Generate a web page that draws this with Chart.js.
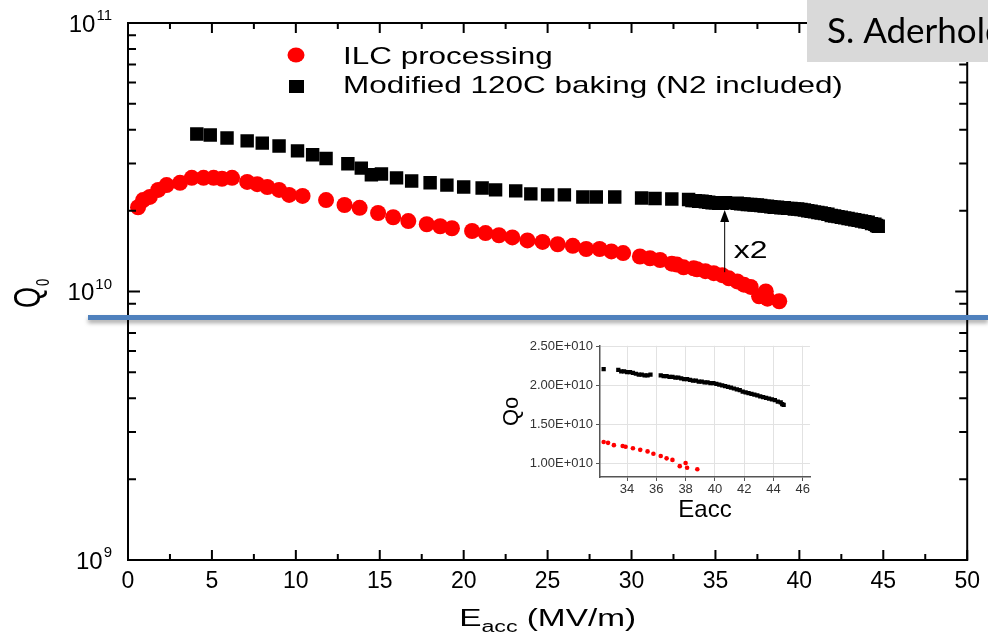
<!DOCTYPE html>
<html>
<head>
<meta charset="utf-8">
<script src="https://cdn.jsdelivr.net/npm/chart.js@4.4.1/dist/chart.umd.min.js"></script>
<style>
  html, body { margin: 0; padding: 0; background: #fff; }
  #wrap { position: relative; width: 988px; height: 641px; overflow: hidden; }
  #main { position: absolute; left: 0; top: 0; }
  #inset { position: absolute; left: 480px; top: 335px; }
  #rule { position: absolute; left: 88px; top: 315px; width: 900px; height: 5px; background: #4f81bd; box-shadow: 0 3px 4px rgba(0,0,0,0.35); }
</style>
</head>
<body>
<div id="wrap">
  <canvas id="main" width="988" height="641"></canvas>
  <canvas id="inset" width="340" height="195"></canvas>
  <div id="rule"></div>
</div>
<script>
// ILC processing (red), Eacc in MV/m, Q0 in units of 1e10
const redE = [0.6, 0.9, 1.3, 1.8, 2.3, 3.1, 3.8, 4.5, 5.1, 5.6, 6.2, 7.1, 7.7, 8.3, 9.0, 9.6, 10.4, 11.8, 12.9,
    13.8, 14.9, 15.8, 16.7, 17.8, 18.6, 19.3, 20.5, 21.3, 22.1, 22.9, 23.8, 24.7, 25.6, 26.5, 27.3, 28.1, 28.8,
    29.5, 30.5, 31.1, 31.7, 32.4, 32.7, 33.1, 33.7, 33.9, 34.4, 34.9, 35.4, 35.8, 36.3, 36.7, 37.1, 37.6, 38.0,
    38.1, 38.8];
const redQ = [2.06, 2.19, 2.25, 2.39, 2.49, 2.54, 2.65, 2.65, 2.65, 2.63, 2.65, 2.56, 2.51, 2.45, 2.39, 2.29, 2.27, 2.19, 2.10,
    2.05, 1.96, 1.89, 1.83, 1.78, 1.75, 1.72, 1.68, 1.65, 1.62, 1.59, 1.55, 1.53, 1.50, 1.48, 1.44, 1.44, 1.41,
    1.39, 1.35, 1.33, 1.31, 1.27, 1.26, 1.23, 1.22, 1.21, 1.19, 1.17, 1.15, 1.12, 1.09, 1.06, 1.04, 0.96, 1.00,
    0.94, 0.92];

// Modified 120C baking (black)
const bakedE = [4.1, 4.9, 5.9, 7.1, 8.0, 9.0, 10.1, 11.0, 11.8, 13.1, 13.9, 14.5, 15.1, 16.0, 16.9, 18.0, 19.0, 20.0,
    21.1, 21.9, 23.1, 24.0, 25.0, 26.0, 27.1, 27.9, 29.0, 30.6, 31.4, 32.4,
    33.4, 33.6, 33.8, 34.0, 34.2, 34.4, 34.6, 34.8, 35.0, 35.2, 35.4, 35.6,
    36.3, 36.5, 36.7, 36.9, 37.1, 37.3, 37.5, 37.7, 37.9, 38.1, 38.3, 38.5, 38.7, 38.9, 39.1, 39.3, 39.5, 39.7,
    39.9, 40.1, 40.3, 40.5, 40.7, 40.9, 41.1, 41.3, 41.5, 41.7, 41.9, 42.1, 42.3, 42.5, 42.7, 42.9, 43.1, 43.3,
    43.5, 43.7, 43.9, 44.1, 44.3, 44.5, 44.6, 44.7];
const bakedQ = [3.86, 3.83, 3.73, 3.64, 3.57, 3.48, 3.34, 3.23, 3.13, 2.99, 2.88, 2.72, 2.74, 2.65, 2.58, 2.54, 2.49, 2.45,
    2.43, 2.39, 2.37, 2.31, 2.29, 2.29, 2.25, 2.25, 2.25, 2.23, 2.22, 2.21,
    2.20, 2.18, 2.18, 2.17, 2.17, 2.16, 2.15, 2.14, 2.14, 2.13, 2.13, 2.14,
    2.13, 2.12, 2.12, 2.11, 2.11, 2.10, 2.10, 2.09, 2.08, 2.08, 2.07, 2.06, 2.06, 2.05, 2.05, 2.04, 2.04, 2.03,
    2.03, 2.02, 2.01, 2.00, 1.99, 1.98, 1.97, 1.96, 1.95, 1.94, 1.92, 1.91, 1.90, 1.89, 1.88, 1.87, 1.86, 1.85,
    1.84, 1.83, 1.82, 1.81, 1.79, 1.78, 1.76, 1.75];

const yDecades = [1e9, 1e10, 1e11];
const insetXTicks = [34, 36, 38, 40, 42, 44, 46];
const insetYTicks = [1.0, 1.5, 2.0, 2.5];

// "x2" arrow (Eacc, from Q, to Q)
const arrowE = 35.55, arrowFromQ = 1.18e10, arrowToQ = 2.01e10;

const FONT = "'Liberation Sans', Arial, sans-serif";

const redPts = redE.map((e, i) => ({ x: e, y: redQ[i] * 1e10 }));
const bakedPts = bakedE.map((e, i) => ({ x: e, y: bakedQ[i] * 1e10 }));

function stretchText(ctx, str, x, y, size, sx) {
    ctx.save();
    ctx.font = size + 'px ' + FONT;
    ctx.translate(x, y);
    ctx.scale(sx, 1);
    ctx.fillText(str, 0, 0);
    const w = ctx.measureText(str).width * sx;
    ctx.restore();
    return w;
}

function textWidth(ctx, str, size, sx) {
    ctx.save();
    ctx.font = size + 'px ' + FONT;
    const w = ctx.measureText(str).width * sx;
    ctx.restore();
    return w;
}

const mainDeco = {
    id: 'mainDeco',
    afterDraw(chart) {
        const ctx = chart.ctx, a = chart.chartArea, xs = chart.scales.x, ys = chart.scales.y;
        ctx.save();
        ctx.fillStyle = '#000';
        ctx.strokeStyle = '#000';

        // frame + inward ticks
        ctx.lineWidth = 2;
        ctx.strokeRect(a.left, a.top, a.right - a.left, a.bottom - a.top);
        ctx.beginPath();
        for (let v = 0; v <= 50; v += 2.5) {
            const px = xs.getPixelForValue(v), len = v % 5 === 0 ? 10 : 6;
            ctx.moveTo(px, a.bottom); ctx.lineTo(px, a.bottom - len);
            ctx.moveTo(px, a.top); ctx.lineTo(px, a.top + len);
        }
        for (const d of [1e9, 1e10]) {
            for (let m = 1; m <= 9; m++) {
                const py = ys.getPixelForValue(m * d), len = m === 1 ? 12 : 8;
                ctx.moveTo(a.left, py); ctx.lineTo(a.left + len, py);
                ctx.moveTo(a.right, py); ctx.lineTo(a.right - len, py);
            }
        }
        ctx.stroke();

        // y tick labels 10^n
        ctx.textBaseline = 'alphabetic';
        for (const v of yDecades) {
            const py = ys.getPixelForValue(v);
            const exp = String(Math.round(Math.log10(v)));
            const we = textWidth(ctx, exp, 15, 1), wb = textWidth(ctx, '10', 24, 1);
            const right = 112;
            ctx.font = '24px ' + FONT; ctx.fillText('10', right - we - wb - 1, py + 8.5);
            ctx.font = '15px ' + FONT; ctx.fillText(exp, right - we, py - 3);
        }

        // Q0 axis title (rotated)
        ctx.save();
        ctx.translate(40, 308);
        ctx.rotate(-Math.PI / 2);
        ctx.scale(1, 1.35);
        ctx.font = '27px ' + FONT;
        const qw = ctx.measureText('Q').width;
        ctx.fillText('Q', 0, 0);
        ctx.font = '13px ' + FONT;
        ctx.fillText('0', qw + 1, 7);
        ctx.restore();

        // Eacc (MV/m) axis title
        const sx = 1.45, base = 626;
        const w1 = textWidth(ctx, 'E', 23, sx), w2 = textWidth(ctx, 'acc', 16, sx), w3 = textWidth(ctx, ' (MV/m)', 23, sx);
        let tx = (a.left + a.right) / 2 - (w1 + w2 + w3) / 2;
        tx += stretchText(ctx, 'E', tx, base, 23, sx);
        tx += stretchText(ctx, 'acc', tx, base + 6, 16, sx);
        stretchText(ctx, ' (MV/m)', tx, base, 23, sx);

        // legend
        ctx.fillStyle = '#ff0000';
        ctx.beginPath(); ctx.ellipse(296, 55, 8.5, 7.5, 0, 0, Math.PI * 2); ctx.fill();
        ctx.fillStyle = '#000';
        ctx.fillRect(289, 80, 15, 13);
        stretchText(ctx, 'ILC processing', 343, 63.5, 24, 1.31);
        stretchText(ctx, 'Modified 120C baking (N2 included)', 343, 93, 24, 1.31);

        // x2 arrow
        const ax = xs.getPixelForValue(arrowE);
        const y0 = ys.getPixelForValue(arrowFromQ), y1 = ys.getPixelForValue(arrowToQ);
        ctx.lineWidth = 1;
        ctx.beginPath(); ctx.moveTo(ax, y0); ctx.lineTo(ax, y1 + 10); ctx.stroke();
        ctx.beginPath(); ctx.moveTo(ax, y1); ctx.lineTo(ax - 4.5, y1 + 12); ctx.lineTo(ax + 4.5, y1 + 12); ctx.closePath(); ctx.fill();
        stretchText(ctx, 'x2', ax + 9, y0 - 14, 24, 1.33);

        // author tag
        ctx.fillStyle = '#d9d9d9';
        ctx.fillRect(807, 0, 181, 62);
        ctx.fillStyle = '#000';
        ctx.font = "35px Lato, 'Liberation Sans', sans-serif";
        ctx.fillText('S. Aderhold', 827, 43);
        ctx.restore();
    }
};

new Chart(document.getElementById('main'), {
    type: 'scatter',
    data: {
        datasets: [
            { label: 'ILC processing', data: redPts, pointStyle: 'circle', pointRadius: 8, backgroundColor: '#ff0000', borderWidth: 0 },
            { label: 'Modified 120C baking (N2 included)', data: bakedPts, pointStyle: 'rect', pointRadius: 9.5, backgroundColor: '#000', borderWidth: 0 }
        ]
    },
    options: {
        responsive: false, animation: false, devicePixelRatio: 1, events: [],
        layout: { padding: { top: 23, right: 17, left: 0, bottom: 0 } },
        plugins: { legend: { display: false }, tooltip: { enabled: false } },
        scales: {
            x: {
                type: 'linear', min: 0, max: 50,
                grid: { display: false, drawTicks: false }, border: { display: false },
                ticks: { stepSize: 5, maxRotation: 0, autoSkip: false, padding: 8, color: '#000', font: { size: 23, family: FONT } },
                afterFit: s => { s.height = 81; }
            },
            y: {
                type: 'logarithmic', min: 1e9, max: 1e11,
                grid: { display: false, drawTicks: false }, border: { display: false },
                ticks: { display: false },
                afterFit: s => { s.width = 128; }
            }
        }
    },
    plugins: [mainDeco]
});

// inset (linear zoom of the high-field region)
const insetRed = redE.map((e, i) => ({ x: e, y: redQ[i] })).filter(p => p.x > 32.15);
const insetBaked = bakedE.map((e, i) => ({ x: e, y: bakedQ[i] })).filter(p => p.x > 32.15);

new Chart(document.getElementById('inset'), {
    type: 'scatter',
    data: {
        datasets: [
            { data: insetBaked, pointStyle: 'rect', pointRadius: 3, backgroundColor: '#000', borderWidth: 0 },
            { data: insetRed, pointStyle: 'circle', pointRadius: 2.3, backgroundColor: '#ff0000', borderWidth: 0 }
        ]
    },
    options: {
        responsive: false, animation: false, devicePixelRatio: 1, events: [],
        layout: { padding: { top: 10, right: 10, left: 0, bottom: 0 } },
        plugins: { legend: { display: false }, tooltip: { enabled: false } },
        scales: {
            x: {
                type: 'linear', min: 32.15, max: 46.5,
                afterBuildTicks: s => { s.ticks = insetXTicks.map(v => ({ value: v })); },
                grid: { color: '#e2e2e2', tickLength: 4, tickColor: '#555' },
                border: { color: '#555', width: 1.5 },
                ticks: { maxRotation: 0, autoSkip: false, padding: 1, color: '#333', font: { size: 13, family: FONT } },
                title: { display: true, text: 'Eacc', color: '#000', font: { size: 24, family: FONT }, padding: { top: 0, bottom: 5 } },
                afterFit: s => { s.height = 53; }
            },
            y: {
                type: 'linear', min: 0.82, max: 2.51,
                afterBuildTicks: s => { s.ticks = insetYTicks.map(v => ({ value: v })); },
                grid: { color: '#e2e2e2', tickLength: 4, tickColor: '#555' },
                border: { color: '#555', width: 1.5 },
                ticks: { padding: 3, color: '#333', font: { size: 13, family: FONT }, callback: v => v.toFixed(2) + 'E+010' },
                title: { display: true, text: 'Qo', color: '#000', font: { size: 22, family: FONT }, padding: { top: 19, bottom: 0 } },
                afterFit: s => { s.width = 120; }
            }
        }
    }
});
</script>
</body>
</html>
